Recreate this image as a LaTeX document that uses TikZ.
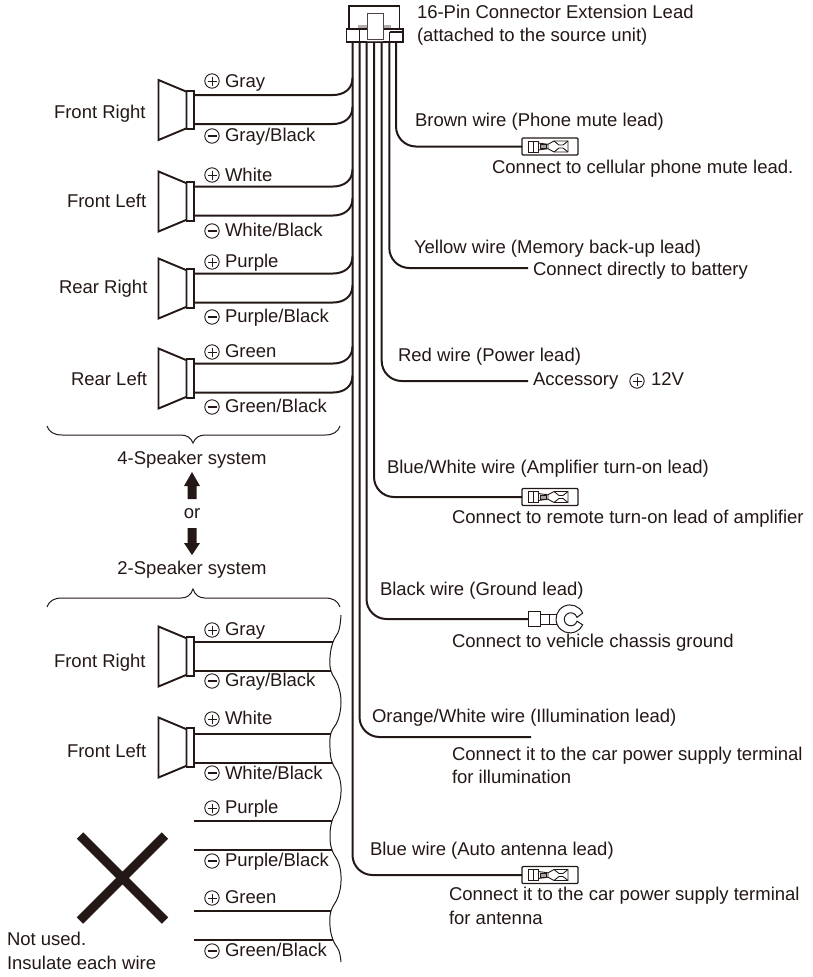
\documentclass[tikz,border=0pt]{standalone}
\usepackage{fontspec}
\setmainfont{Liberation Sans}
\definecolor{ink}{HTML}{231815}
\tikzset{
  txt/.style={anchor=base west,inner sep=0pt,outer sep=0pt,text=ink,font=\fontsize{18.5}{22}\selectfont},
  ctr/.style={txt,anchor=base},
  wire/.style={draw=ink,line width=2pt},
  pics/plusmark/.style={code={
    \draw[ink,line width=0.9pt] (0,0) circle[radius=7.2];
    \draw[ink,line width=0.9pt] (-4.5,0) -- (4.5,0) (0,-4.5) -- (0,4.5);}},
  pics/minusmark/.style={code={
    \draw[ink,line width=0.9pt] (0,0) circle[radius=7.2];
    \draw[ink,line width=1.2pt] (-4.5,0) -- (4.5,0);}},
  pics/speaker/.style={code={
    \draw[ink,line width=1.9pt,line join=miter] (0,0) -- (28,11.7) -- (28,48.3) -- (0,60) -- cycle;
    \draw[ink,line width=1.9pt] (28,10.7) rectangle (35.5,49.3);}},
  pics/bullet/.style={code={
    \draw[ink,line width=1.1pt,rounded corners=1] (0,-8.5) rectangle (56,8.5);
    \draw[ink,line width=.9pt] (6,-5.5) rectangle (16,5.5) (11,-5.5) -- (11,5.5);
    \draw[ink,line width=.9pt] (16,-3.5) -- (26,-2.2) -- (26,2.2) -- (16,3.5);
    \draw[ink,line width=.9pt,fill=ink!40] (18,-2) rectangle (24,2);
    \draw[ink,line width=.9pt] (26,-2.2) -- (32,-5.5) -- (46,-5.5) -- (46,5.5) -- (32,5.5) -- (26,2.2);
    \draw[ink,line width=.9pt] (32,-5.5) -- (37,-1.5) -- (41,-1.5) -- (46,-5.5) (32,5.5) -- (37,1.5) -- (41,1.5) -- (46,5.5);}},
  pics/ringterm/.style={code={
    \draw[ink,line width=1pt] (0,-7.5) rectangle (12,7.5);
    \draw[ink,line width=1pt] (12,-5) -- (29,-5) (12,5) -- (29,5) (21,-5) -- (21,5);
    \draw[ink,line width=1pt] (54.7,-6) arc[start angle=-25,end angle=-335,radius=14]
       -- (49,2.2) arc[start angle=17,end angle=343,radius=6.5] -- cycle;}},
}
\begin{document}
\begin{tikzpicture}[x=1pt,y=-1pt]
\useasboundingbox (0,0) rectangle (813,977);
% rail coordinates
\coordinate (r1) at (352.5,42);
\coordinate (r2) at (359.5,42);
\coordinate (r3) at (366.5,42);
\coordinate (r4) at (374,42);
\coordinate (r5) at (381.7,42);
\coordinate (r6) at (389.3,42);
\coordinate (r7) at (396,42);
% line ends
\coordinate (eBrown) at (522,146.5);
\coordinate (eYellow) at (528,268);
\coordinate (eRed) at (528,381);
\coordinate (eBW) at (522,497);
\coordinate (eBlack) at (528,619);
\coordinate (eOrange) at (531,737);
\coordinate (eBlue) at (522,875);
\foreach \a/\b in {r7/eBrown,r6/eYellow,r5/eRed,r4/eBW,r3/eBlack,r2/eOrange,r1/eBlue}
  \draw[wire,rounded corners=20pt] (\a) |- (\b);
% connector
\draw[ink,line width=1.3pt,fill=white] (349,29) -- (349,6) -- (399.5,6) -- (399.5,29);
\fill[ink!35] (358,25) rectangle (391,29);
\draw[ink,line width=1.3pt,fill=white] (346.5,29) rectangle (403,42);
\draw[ink,line width=1.3pt,fill=white] (359.5,29) -- (359.5,42);
\draw[ink,line width=1.3pt] (389.5,32) -- (389.5,42) (389.5,32) -- (403,32);
\draw[ink!80,line width=1pt,fill=white] (367,13) rectangle (383,39);
\draw[ink!70,line width=1pt] (367,41) -- (383,41);
% 4-speaker group
\foreach \n/\dy in {fr/0,fl/91.5,rr/178.5,rl/268.5}{
  \pic at (158.5,{80+\dy}) {speaker};
  \coordinate (\n A) at (194,{95+\dy});
  \coordinate (\n B) at (194,{124+\dy});
  \coordinate (\n Ar) at (352.5,{78+\dy});
  \coordinate (\n Br) at (352.5,{107+\dy});
  \draw[wire] (\n A) -- ++(139,0) .. controls +(11,0) and +(0,11) .. (\n Ar);
  \draw[wire] (\n B) -- ++(139,0) .. controls +(11,0) and +(0,11) .. (\n Br);
}
% 2-speaker group
\foreach \n/\dy in {tfr/546.5,tfl/637.5}{
  \pic at (158.5,{80+\dy}) {speaker};
}
\coordinate (wa1) at (193.5,642.3); \coordinate (wb1) at (333,642.3);
\coordinate (wa2) at (193.5,671);   \coordinate (wb2) at (331,671);
\coordinate (wa3) at (193.5,733.6); \coordinate (wb3) at (331,733.6);
\coordinate (wa4) at (193.5,762.7); \coordinate (wb4) at (332,762.7);
\coordinate (wa5) at (193.5,821);   \coordinate (wb5) at (332,821);
\coordinate (wa6) at (193.5,850);   \coordinate (wb6) at (332,850);
\coordinate (wa7) at (193.5,911);   \coordinate (wb7) at (331,911);
\coordinate (wa8) at (193.5,940);   \coordinate (wb8) at (333,940);
\foreach \i in {1,...,8} \draw[wire] (wa\i) -- (wb\i);
% torn edge
\draw[ink,line width=1pt] plot[smooth,tension=.7] coordinates {(341,615) (339,630) (333,642) (330,657) (331,671) (338,685) (341,702) (338,720) (331,733) (330,748) (332,762) (339,776) (341,792) (338,808) (332,821) (330,836) (332,850) (339,864) (341,881) (338,897) (331,911) (330,926) (333,940) (339,951) (341,962)};
% braces
\draw[ink,line width=1pt] (47,426) .. controls (49,432) and (54,435) .. (62,435) -- (181,435) .. controls (187,435) and (191,438) .. (193,443) .. controls (195,438) and (199,435) .. (205,435) -- (325,435) .. controls (333,435) and (338,432) .. (340,426);
\draw[ink,line width=1pt] (47,607) .. controls (49,601) and (54,598) .. (62,598) -- (181,598) .. controls (187,598) and (191,595) .. (193,589) .. controls (195,595) and (199,598) .. (205,598) -- (325,598) .. controls (333,598) and (338,601) .. (340,607);
% bold arrows
\fill[ink] (192,472) -- (200,486) -- (196.5,486) -- (196.5,499) -- (187.5,499) -- (187.5,486) -- (184,486) -- cycle;
\fill[ink] (192,555) -- (200,543) -- (196.5,543) -- (196.5,528) -- (187.5,528) -- (187.5,543) -- (184,543) -- cycle;
% cross
\draw[ink,line width=9pt] (80,835.5) -- (165,920.5) (165,835.5) -- (80,920.5);
% terminals
\pic at (eBrown) {bullet};
\pic at (eBW) {bullet};
\pic at (eBlue) {bullet};
\pic at (eBlack) {ringterm};
% polarity marks
\foreach \y in {81,175,262,352,630,719,808,898} \pic at (212,\y) {plusmark};
\foreach \y in {136,231,317,407,681,773,861,951} \pic at (212,\y) {minusmark};
\pic at (637,381) {plusmark};
% speaker labels
\node[txt] (l1) at (225,87) {Gray};
\node[txt] (l2) at (225,141) {Gray/Black};
\node[txt] (l3) at (225,181) {White};
\node[txt] (l4) at (225,236) {White/Black};
\node[txt] (l5) at (225,267) {Purple};
\node[txt] (l6) at (225,322) {Purple/Black};
\node[txt] (l7) at (225,357) {Green};
\node[txt] (l8) at (225,412) {Green/Black};
\node[txt] (m1) at (225,635) {Gray};
\node[txt] (m2) at (225,686) {Gray/Black};
\node[txt] (m3) at (225,724) {White};
\node[txt] (m4) at (225,779) {White/Black};
\node[txt] (m5) at (225,813) {Purple};
\node[txt] (m6) at (225,866) {Purple/Black};
\node[txt] (m7) at (225,903) {Green};
\node[txt] (m8) at (225,956) {Green/Black};
\node[txt] (s1) at (54,118) {Front Right};
\node[txt] (s2) at (67,207) {Front Left};
\node[txt] (s3) at (59,293) {Rear Right};
\node[txt] (s4) at (71,385) {Rear Left};
\node[txt] (s5) at (54,667) {Front Right};
\node[txt] (s6) at (67,757) {Front Left};
\node[ctr] (c1) at (192,464) {4-Speaker system};
\node[ctr] (c2) at (192,518) {or};
\node[ctr] (c3) at (192,574) {2-Speaker system};
\node[txt] (n1) at (7,945) {Not used.};
\node[txt] (n2) at (7,969) {Insulate each wire};
% right labels
\node[txt] (t1) at (417,18) {16-Pin Connector Extension Lead};
\node[txt] (t2) at (417,41) {(attached to the source unit)};
\node[txt] (t3) at (415,126) {Brown wire (Phone mute lead)};
\node[txt] (t4) at (492,173) {Connect to cellular phone mute lead.};
\node[txt] (t5) at (414,253) {Yellow wire (Memory back-up lead)};
\node[txt] (t6) at (533,275) {Connect directly to battery};
\node[txt] (t7) at (398,361) {Red wire (Power lead)};
\node[txt] (t8) at (533,385) {Accessory};
\node[txt] (t9) at (651,385) {12V};
\node[txt] (t10) at (387,473) {Blue/White wire (Amplifier turn-on lead)};
\node[txt] (t11) at (452,523) {Connect to remote turn-on lead of amplifier};
\node[txt] (t12) at (380,595) {Black wire (Ground lead)};
\node[txt] (t13) at (452,647) {Connect to vehicle chassis ground};
\node[txt] (t14) at (372,722) {Orange/White wire (Illumination lead)};
\node[txt] (t15) at (452,760) {Connect it to the car power supply terminal};
\node[txt] (t16) at (452,783) {for illumination};
\node[txt] (t17) at (370,855) {Blue wire (Auto antenna lead)};
\node[txt] (t18) at (449,900) {Connect it to the car power supply terminal};
\node[txt] (t19) at (449,924) {for antenna};
\end{tikzpicture}
\end{document}
